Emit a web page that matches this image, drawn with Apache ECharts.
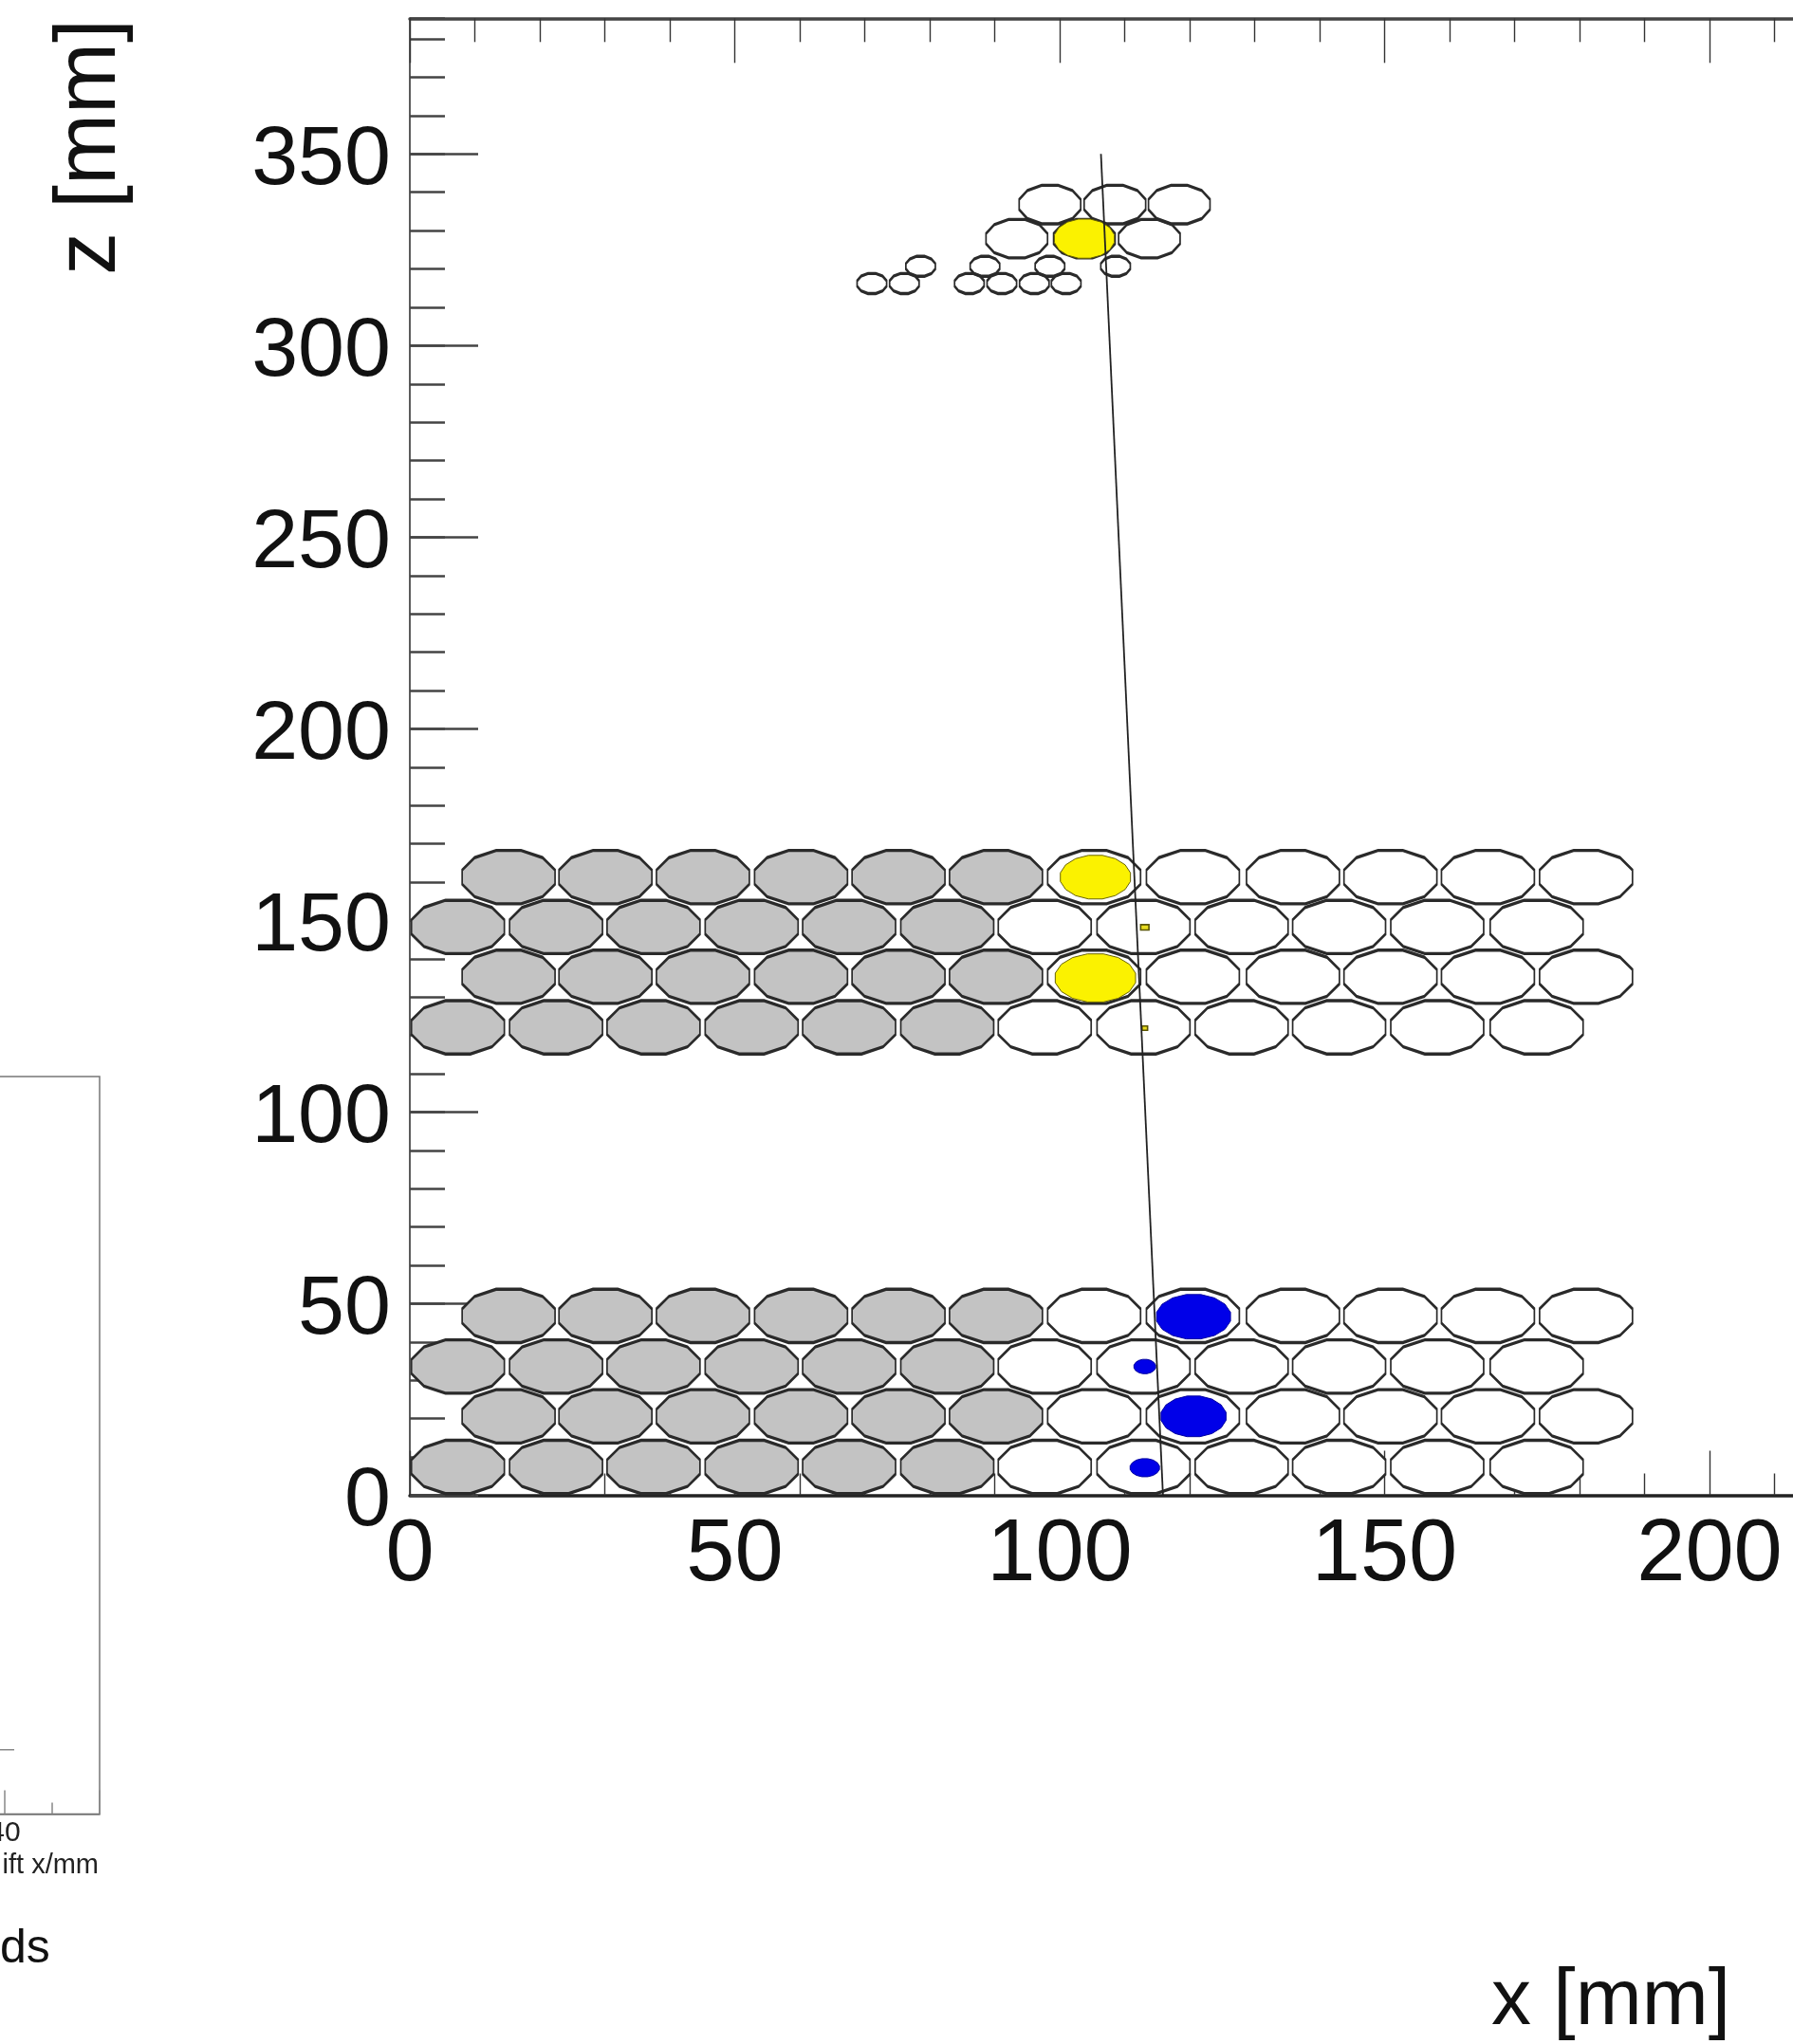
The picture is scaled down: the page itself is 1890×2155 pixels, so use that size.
<!DOCTYPE html>
<html>
<head>
<meta charset="utf-8">
<style>
html,body{margin:0;padding:0;background:#fff;overflow:hidden}
#c{width:1890px;height:2155px;filter:blur(0.6px)}
</style>
<script src="https://cdn.jsdelivr.net/npm/echarts@6/dist/echarts.min.js"></script>
</head>
<body>
<div id="c"></div>
<script>
// tube layout (mm)
const tubeXOuter = [15.2,30.1,45.1,60.2,75.2,90.2,105.3,120.5,135.9,150.9,165.9,181.0];
const tubeXInner = [7.4,22.5,37.5,52.6,67.6,82.7,97.7,112.9,128.0,143.0,158.1,173.4];
const upperRowsZOuter = [161.3,135.3];
const upperRowsZInner = [148.3,122.1];
const lowerRowsZOuter = [46.8,20.6];
const lowerRowsZInner = [33.6,7.4];
const greyTubesPerRow = 6;
const tubeRx = 7.4, tubeRz = 7.2;
// top station: [x, z]
const topLargeTubes = [[98.5,336.8],[108.5,336.8],[118.4,336.8],[93.4,327.9],[103.8,327.9],[113.8,327.9]];
const topSmallTubes = [[78.6,320.7],[88.5,320.7],[98.5,320.7],[108.6,320.7],[71.1,316.2],[76.1,316.2],[86.1,316.2],[91.1,316.2],[96.1,316.2],[101.0,316.2]];
const topLargeR = [4.9,5.2], topSmallR = [2.35,2.7];
// hits: [x, z, rx, rz]
const yellowHits = [[103.8,327.9,4.7,5.2],[105.5,161.3,5.5,5.8],[105.5,135.0,6.3,6.4]];
const yellowSmallHits = [[113.1,148.2,0.9,1.0],[113.1,121.9,0.6,0.8]];
const blueHits = [[120.6,46.6,5.8,5.9],[120.6,20.6,5.1,5.4],[113.1,33.6,1.7,1.9],[113.1,7.2,2.3,2.4]];
// fitted track: [x, z]
const trackLine = [[106.35,350],[115.9,0]];
// inset fragment
const insetLine = [[38,0.087],[41,0.087]];
const xTicksInterval = 50, zTicksInterval = 50, zMinorInterval = 10;
const xMax = 220, zMax = 385.4;

const FONT = '"Liberation Sans", Arial, sans-serif';
const tubes = (xs, zs, r) => zs.flatMap(z => xs.map(x => [x, z, r[0], r[1]]));
const R = [tubeRx, tubeRz];
const greyData = [
  ...tubes(tubeXOuter.slice(0, greyTubesPerRow), upperRowsZOuter.concat(lowerRowsZOuter), R),
  ...tubes(tubeXInner.slice(0, greyTubesPerRow), upperRowsZInner.concat(lowerRowsZInner), R)
];
const whiteData = [
  ...tubes(tubeXOuter.slice(greyTubesPerRow), upperRowsZOuter.concat(lowerRowsZOuter), R),
  ...tubes(tubeXInner.slice(greyTubesPerRow), upperRowsZInner.concat(lowerRowsZInner), R),
  ...topLargeTubes.map(p => [p[0], p[1], topLargeR[0], topLargeR[1]]),
  ...topSmallTubes.map(p => [p[0], p[1], topSmallR[0], topSmallR[1]])
];
const allData = greyData.concat(whiteData);

function tubeRenderer(style) {
  return function (params, api) {
    const c = api.coord([api.value(0), api.value(1)]);
    const s = api.size([api.value(2), api.value(3)], [api.value(0), api.value(1)]);
    const k = style.scaleY, n = style.sides;
    const pts = [];
    for (let i = 0; i < n; i++) {
      const a = (i + 0.5) * 2 * Math.PI / n;
      pts.push([s[0] * Math.cos(a), s[1] / k * Math.sin(a)]);
    }
    return {
      type: 'polygon', x: c[0], y: c[1], scaleX: 1, scaleY: k,
      shape: { points: pts },
      style: { fill: style.fill, stroke: style.stroke, lineWidth: style.lineWidth }
    };
  };
}
function tubeSeries(name, data, style, z) {
  return {
    type: 'custom', name, data, xAxisIndex: 0, yAxisIndex: 0, z,
    encode: { x: 0, y: 1 }, silent: true, animation: false, clip: false,
    renderItem: tubeRenderer(style)
  };
}

const option = {
  animation: false,
  backgroundColor: '#ffffff',
  grid: [
    { left: 432, top: 19.3, width: 6.85 * xMax, height: 1557.2, show: false, outerBoundsMode: 'none', containLabel: false },
    { left: -395, top: 1135, width: 500, height: 777.5, show: true, borderColor: '#777', borderWidth: 1.5, backgroundColor: 'transparent', outerBoundsMode: 'none', containLabel: false }
  ],
  xAxis: [
    { type: 'value', gridIndex: 0, position: 'bottom', min: 0, max: xMax, interval: xTicksInterval,
      axisLine: { onZero: false, lineStyle: { color: '#222', width: 3.5 } },
      axisTick: { inside: true, length: 47, lineStyle: { color: '#333', width: 1.4 } },
      minorTick: { show: true, splitNumber: 5, length: 23, lineStyle: { color: '#333', width: 1.4 } },
      splitLine: { show: false },
      axisLabel: { margin: 18, fontSize: 92, color: '#111', fontFamily: FONT, showMaxLabel: false } },
    { type: 'value', gridIndex: 0, position: 'top', min: 0, max: xMax, interval: xTicksInterval,
      axisLine: { onZero: false, lineStyle: { color: '#444', width: 3.5 } },
      axisTick: { inside: true, length: 47, lineStyle: { color: '#333', width: 1.4 } },
      minorTick: { show: true, splitNumber: 5, length: 25, lineStyle: { color: '#333', width: 1.4 } },
      splitLine: { show: false }, axisLabel: { show: false } },
    { type: 'value', gridIndex: 1, position: 'bottom', min: 0, max: 50, interval: 10,
      axisLine: { onZero: false, lineStyle: { color: '#777', width: 1.5 } },
      axisTick: { inside: true, length: 25, lineStyle: { color: '#888', width: 1.5 } },
      minorTick: { show: true, splitNumber: 2, length: 12, lineStyle: { color: '#888', width: 1.5 } },
      splitLine: { show: false },
      axisLabel: { margin: 5, fontSize: 30, color: '#222', fontFamily: FONT, showMaxLabel: false } }
  ],
  yAxis: [
    { type: 'value', gridIndex: 0, position: 'left', min: 0, max: zMax, interval: zTicksInterval,
      axisLine: { onZero: false, lineStyle: { color: '#333', width: 1.6 } },
      axisTick: { inside: true, length: 72, lineStyle: { color: '#444', width: 2.6 } },
      splitLine: { show: false },
      axisLabel: { margin: 20, fontSize: 88, color: '#111', fontFamily: FONT, showMaxLabel: false, verticalAlign: 'top', lineHeight: 14 } },
    { type: 'value', gridIndex: 0, position: 'left', min: 0, max: zMax, interval: zMinorInterval,
      axisLine: { show: false, onZero: false },
      axisTick: { inside: true, length: 37, lineStyle: { color: '#444', width: 2.6 } },
      splitLine: { show: false }, axisLabel: { show: false } },
    { type: 'value', gridIndex: 1, min: 0, max: 1, show: false, splitLine: { show: false } }
  ],
  series: [
    tubeSeries('grey tubes', greyData, { fill: '#c3c3c3', stroke: 'none', lineWidth: 0, scaleY: 2, sides: 12 }, 2),
    tubeSeries('white tubes', whiteData, { fill: '#ffffff', stroke: 'none', lineWidth: 0, scaleY: 2, sides: 12 }, 2),
    tubeSeries('tube outlines', allData, { fill: 'none', stroke: '#2a2a2a', lineWidth: 1.7, scaleY: 2, sides: 12 }, 3),
    tubeSeries('yellow hits', yellowHits, { fill: '#fbf200', stroke: '#6a6400', lineWidth: 1, scaleY: 1, sides: 16 }, 4),
    tubeSeries('small yellow hits', yellowSmallHits, { fill: '#e8dc20', stroke: '#5a5400', lineWidth: 1.6, scaleY: 1, sides: 4 }, 4),
    tubeSeries('blue hits', blueHits, { fill: '#0000e8', stroke: '#0000a0', lineWidth: 1, scaleY: 1, sides: 16 }, 4),
    { type: 'line', name: 'track', data: trackLine, xAxisIndex: 0, yAxisIndex: 0, z: 5,
      showSymbol: false, silent: true, lineStyle: { color: '#222', width: 1.8 } },
    { type: 'line', name: 'inset', data: insetLine, xAxisIndex: 2, yAxisIndex: 2, z: 5,
      showSymbol: false, silent: true, lineStyle: { color: '#888', width: 1.5 } }
  ],
  graphic: [
    { type: 'text', x: 96, y: 155, rotation: Math.PI / 2, style: { text: 'z [mm]', x: 0, y: 0, fontSize: 90, fontFamily: FONT, fill: '#111', align: 'center', verticalAlign: 'middle' } },
    { type: 'text', x: 1698, y: 2111, style: { text: 'x [mm]', fontSize: 84, fontFamily: FONT, fill: '#111', align: 'center', verticalAlign: 'middle' } },
    { type: 'text', x: 104, y: 1967, style: { text: 'ift x/mm', fontSize: 29, fontFamily: FONT, fill: '#222', align: 'right', verticalAlign: 'middle' } },
    { type: 'text', x: 0, y: 2055, style: { text: 'ds', fontSize: 50, fontFamily: FONT, fill: '#111', align: 'left', verticalAlign: 'middle' } }
  ]
};
const chart = echarts.init(document.getElementById('c'), null, { renderer: 'canvas', width: 1890, height: 2155 });
chart.setOption(option);
</script>
</body>
</html>
